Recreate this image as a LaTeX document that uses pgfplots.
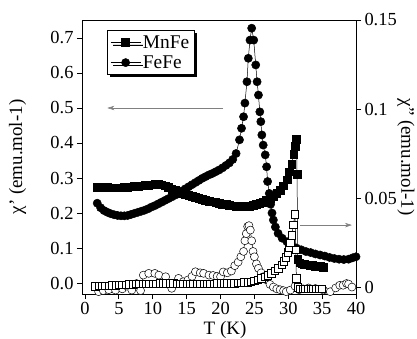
\documentclass[border=0pt]{standalone}
\usepackage{fontspec}
\setmainfont{Liberation Serif}
\usepackage{pgfplots}
\pgfplotsset{compat=1.18}
\usetikzlibrary{calc,shadows,arrows.meta}

\begin{document}
\begin{tikzpicture}
\pgfplotsset{
  common/.style={
    scale only axis, width=274bp, height=274bp,
    xmin=-0.45, xmax=40,
    font=\fontsize{19}{23}\selectfont,
    tick align=outside, major tick length=5bp,
    scaled ticks=false,
    /pgf/number format/assume math mode=true,
    tick label style={font=\fontsize{18.5}{22}\selectfont},
    axis line style={line width=0.9pt},
    every tick/.style={line width=0.9pt, black},
  },
  fsq/.style={black, line width=0.5pt, mark=square*, mark size=3.9bp, mark options={solid, fill=black}},
  fci/.style={black, line width=0.5pt, mark=*, mark size=4.1bp, mark options={solid, fill=black}},
  osq/.style={black, line width=0.5pt, mark=square*, mark size=3.7bp, mark options={solid, fill=white, line width=0.5pt}},
  oci/.style={black, line width=0.5pt, mark=*, mark size=4bp, mark options={solid, fill=white, line width=0.5pt}},
}
\begin{axis}[common, name=ax,
  ymin=-0.0314, ymax=0.7514,
  xtick={0,5,10,15,20,25,30,35,40}, xtick pos=bottom,
  ytick={0,0.1,0.2,0.3,0.4,0.5,0.6,0.7}, ytick pos=left,
  yticklabel style={/pgf/number format/fixed, /pgf/number format/fixed zerofill, /pgf/number format/precision=1},
  xlabel={T (K)}, ylabel={χ\symbol{39} (emu.mol-1)},
  xlabel style={at={(axis description cs:0.522,-0.13)}, anchor=center, inner sep=0pt},
  ylabel style={at={(axis description cs:-0.235,0.5)}, anchor=center},
  legend style={at={(axis description cs:0.091,0.964)}, anchor=north west, draw=black, line width=0.9pt, fill=white,
    drop shadow={shadow xshift=2.5bp, shadow yshift=-2.5bp, fill=black, opacity=1},
    inner sep=3bp, row sep=2bp, font=\fontsize{19.5}{23}\selectfont},
  legend cell align=left,
  legend image code/.code={\draw[#1, mark repeat=2, mark phase=2] plot coordinates {(0bp,0bp) (15bp,0bp) (30bp,0bp)};},
]
\addplot[fsq] table {
x y
1.8 0.274
2.3 0.274
2.8 0.273
3.3 0.273
3.8 0.272
4.3 0.272
4.8 0.272
5.3 0.272
5.8 0.273
6.3 0.274
6.8 0.275
7.3 0.276
7.8 0.277
8.3 0.278
8.8 0.279
9.3 0.280
9.8 0.281
10.3 0.282
10.8 0.282
11.3 0.281
11.8 0.278
12.3 0.274
12.8 0.269
13.3 0.265
13.8 0.261
14.3 0.257
14.8 0.254
15.3 0.251
15.8 0.248
16.3 0.245
16.8 0.242
17.3 0.239
17.8 0.236
18.3 0.234
18.8 0.232
19.3 0.230
19.8 0.228
20.3 0.226
20.8 0.224
21.3 0.222
21.8 0.221
22.3 0.220
22.8 0.219
23.3 0.219
23.8 0.219
24.3 0.220
24.8 0.222
25.3 0.224
25.8 0.227
26.3 0.231
26.8 0.236
27.3 0.241
27.8 0.248
28.3 0.256
28.8 0.265
29.3 0.278
29.8 0.295
30.2 0.318
30.5 0.340
30.8 0.368
31.0 0.390
31.2 0.410
31.3 0.310
31.4 0.068
31.7 0.058
32.0 0.055
32.4 0.053
32.8 0.052
33.2 0.051
33.6 0.050
34.0 0.049
34.4 0.048
34.8 0.047
35.2 0.046
};
\addlegendentry{MnFe}
\addplot[fci] table {
x y
1.8 0.228
2.3 0.215
2.8 0.207
3.3 0.202
3.8 0.198
4.3 0.195
4.8 0.193
5.3 0.192
5.8 0.192
6.3 0.193
6.8 0.196
7.3 0.199
7.8 0.202
8.3 0.205
8.8 0.208
9.3 0.212
9.8 0.217
10.3 0.221
10.8 0.226
11.3 0.231
11.8 0.236
12.3 0.241
12.8 0.246
13.3 0.251
13.8 0.257
14.3 0.263
14.8 0.269
15.3 0.275
15.8 0.281
16.3 0.287
16.8 0.293
17.3 0.299
17.8 0.304
18.3 0.309
18.8 0.313
19.3 0.318
19.8 0.323
20.3 0.329
20.8 0.336
21.3 0.343
21.8 0.353
22.3 0.370
22.8 0.409
23.1 0.442
23.4 0.475
23.6 0.514
23.9 0.575
24.1 0.642
24.35 0.694
24.6 0.728
24.9 0.694
25.2 0.623
25.4 0.575
25.6 0.537
25.8 0.489
25.95 0.461
26.1 0.423
26.3 0.394
26.6 0.366
26.8 0.332
26.95 0.290
27.2 0.256
27.4 0.225
27.6 0.200
27.8 0.180
28.1 0.160
28.5 0.142
29.1 0.128
29.8 0.118
30.5 0.108
31.2 0.100
31.9 0.095
32.6 0.090
33.3 0.087
34.0 0.083
34.7 0.080
35.4 0.077
36.1 0.073
36.8 0.070
37.5 0.068
38.2 0.067
38.9 0.068
39.5 0.072
40.0 0.075
};
\addlegendentry{FeFe}
\draw[gray, line width=0.5pt, -{Stealth[length=7bp,width=4.5bp]}] (axis cs:20.4,0.5) -- (axis cs:3.3,0.5);
\end{axis}
\begin{axis}[common,
  axis x line=none, axis y line*=right,
  ymin=-0.0039, ymax=0.15,
  ytick={0,0.05,0.1,0.15},
  yticklabel style={/pgf/number format/fixed},
  ylabel={χ\symbol{34} (emu.mol-1)},
  ylabel style={at={(axis description cs:1.182,0.5)}, anchor=center, rotate=180},
]
\addplot[oci] table {
x y
2.0 -0.0026
2.7 -0.0020
3.5 -0.0015
4.5 -0.0017
5.5 -0.0010
6.2 0.0005
6.9 -0.0017
7.6 0.0020
8.2 -0.0020
8.6 0.0067
9.4 0.0077
10.3 0.0077
10.9 0.0067
11.9 0.0058
12.8 -0.0007
13.8 0.0049
14.5 0.0030
15.2 0.0040
15.8 0.0060
16.3 0.0086
17.0 0.0080
17.5 0.0077
18.3 0.0067
18.9 0.0065
19.5 0.0060
20.0 0.0058
20.4 0.0085
21.0 0.0080
21.6 0.0090
22.1 0.0120
22.6 0.0140
23.0 0.0170
23.4 0.0200
23.6 0.0260
23.8 0.0300
24.0 0.0340
24.2 0.0345
24.4 0.0320
24.6 0.0260
24.8 0.0200
25.0 0.0170
25.3 0.0130
25.6 0.0105
26.0 0.0080
26.3 0.0058
26.8 0.0040
27.3 0.0015
27.8 0.0000
28.3 -0.0010
28.8 -0.0015
29.3 -0.0020
29.7 -0.0026
30.3 -0.0017
31.0 0.0005
31.6 -0.0015
32.2 -0.0010
33.0 -0.0005
34.0 -0.0008
35.2 -0.0017
36.2 -0.0026
37.0 -0.0005
37.6 0.0010
38.1 0.0010
38.6 0.0020
38.9 0.0017
39.4 0.0000
};
\addplot[osq] table {
x y
1.5 0.0005
2.0 0.0006
2.5 0.0007
3.0 0.0008
3.5 0.0009
4.0 0.0010
4.5 0.0011
5.0 0.0012
5.5 0.0013
6.0 0.0014
6.5 0.0015
7.0 0.0016
7.5 0.0017
8.0 0.0018
8.5 0.0019
9.0 0.0019
9.5 0.0020
10.0 0.0020
10.5 0.0020
11.0 0.0021
11.5 0.0021
12.0 0.0021
12.5 0.0021
13.0 0.0021
13.5 0.0020
14.0 0.0020
14.5 0.0020
15.0 0.0020
15.5 0.0020
16.0 0.0020
16.5 0.0020
17.0 0.0020
17.5 0.0020
18.0 0.0020
18.5 0.0020
19.0 0.0020
19.5 0.0021
20.0 0.0021
20.5 0.0021
21.0 0.0021
21.5 0.0022
22.0 0.0022
22.5 0.0023
23.0 0.0024
23.5 0.0026
24.0 0.0028
24.5 0.0031
25.0 0.0036
25.5 0.0042
26.0 0.0049
26.5 0.0057
27.0 0.0066
27.5 0.0077
28.0 0.0090
28.5 0.0106
29.0 0.0126
29.3 0.0145
29.6 0.0168
29.9 0.0195
30.1 0.0220
30.3 0.0250
30.5 0.0290
30.75 0.0350
31.0 0.0410
31.1 0.0210
31.2 0.0050
31.4 0.0000
31.7 -0.0008
32.1 -0.0010
32.5 -0.0010
32.9 -0.0010
33.3 -0.0010
33.7 -0.0008
34.1 -0.0010
34.5 -0.0010
34.9 -0.0010
};
\draw[gray, line width=0.5pt, -{Stealth[length=7bp,width=4.5bp]}] (axis cs:31.7,0.0348) -- (axis cs:39.4,0.0348);
\end{axis}
\pgfresetboundingbox
\path[use as bounding box] ($(ax.south west)+(-82bp,-45bp)$) rectangle ($(ax.south west)+(335bp,294bp)$);
\end{tikzpicture}
\end{document}
